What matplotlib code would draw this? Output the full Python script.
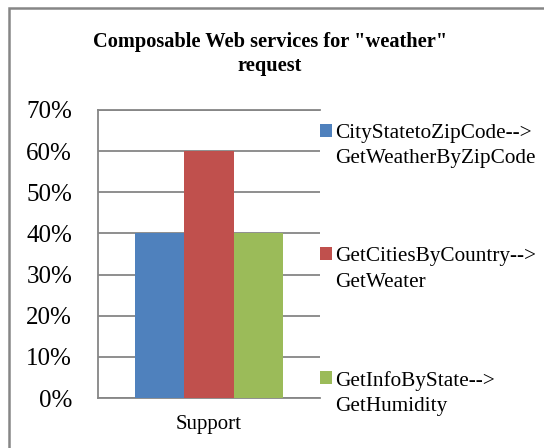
import matplotlib
matplotlib.use("Agg")
import matplotlib.pyplot as plt
from matplotlib.patches import Rectangle
from matplotlib.ticker import PercentFormatter

# data
categories = ["Support"]
series_names = [
    "CityStatetoZipCode-->\nGetWeatherByZipCode",
    "GetCitiesByCountry-->\nGetWeater",
    "GetInfoByState-->\nGetHumidity",
]
series_values = [[0.40], [0.60], [0.40]]
series_colors = ["#4F81BD", "#C0504D", "#9BBB59"]
y_ticks = [0.0, 0.1, 0.2, 0.3, 0.4, 0.5, 0.6, 0.7]

plt.rcParams["font.family"] = ["Liberation Serif", "DejaVu Serif"]

fig = plt.figure(figsize=(5.44, 4.48), dpi=100)
ax = fig.add_axes([0.180, 0.1116, 0.408, 0.643])

# Excel style clustered bars: gap width 150%
n = len(series_values)
bar_w = 1.0 / (n + 1.5)
for i, (name, vals, col) in enumerate(zip(series_names, series_values, series_colors)):
    xs = [k + (i - (n - 1) / 2) * bar_w for k in range(len(categories))]
    ax.bar(xs, vals, width=bar_w, color=col, label=name, zorder=3)

ax.set_xlim(-0.5, len(categories) - 0.5)
ax.set_ylim(0, 0.7)
ax.set_yticks(y_ticks)
ax.yaxis.set_major_formatter(PercentFormatter(1.0, decimals=0))
ax.set_xticks(range(len(categories)))
ax.set_xticklabels(categories)
ax.tick_params(axis="y", length=0, pad=18.5, labelsize=18)
ax.tick_params(axis="x", length=0, pad=12, labelsize=15)
ax.grid(axis="y", color="#868686", linewidth=1.3, zorder=0)
ax.spines["right"].set_visible(False)
for side in ["left", "bottom", "top"]:
    ax.spines[side].set_color("#868686")
    ax.spines[side].set_linewidth(1.3)

fig.text(0.496, 0.880, 'Composable Web services for "weather"\nrequest',
         ha="center", va="center", fontsize=14.7, fontweight="bold",
         linespacing=1.28)

leg = fig.legend(loc="upper left", bbox_to_anchor=(320 / 544, 1 - 124 / 448),
                 frameon=False, fontsize=15.3, handlelength=0.55, handleheight=0.55,
                 handletextpad=0.15, labelspacing=3.72, borderpad=0, borderaxespad=0)
for t in leg.get_texts():
    t.set_linespacing(1.45)
# put the colour square next to the first line of each entry
for col in leg._legend_handle_box.get_children():
    for item in col.get_children():
        item.align = "top"

# chart border (only top and left edges fall inside the image)
fig.add_artist(Rectangle((9 / 544, -0.1), 1.2, 1 - 8 / 448 + 0.1,
                         transform=fig.transFigure, fill=False,
                         edgecolor="#868686", linewidth=1.8))

fig.savefig("out.png", dpi=100)
